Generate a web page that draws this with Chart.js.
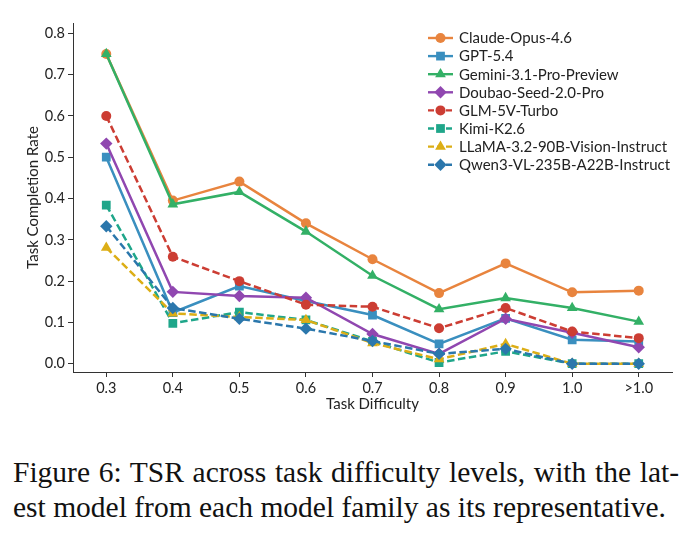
<!DOCTYPE html>
<html>
<head>
<meta charset="utf-8">
<script src="https://cdn.jsdelivr.net/npm/chart.js@4.4.1/dist/chart.umd.min.js"></script>
<style>
  body { margin: 0; background: #fff; }
  #wrap { position: absolute; left: 0; top: 0; width: 691px; height: 420px; }
  #caption {
    position: absolute; left: 13px; top: 455px; width: 666px;
    font-family: 'Liberation Serif', Times, 'Times New Roman', serif;
    font-size: 29.5px; line-height: 35px; color: #111;
  }
  #caption .l1 { text-align: justify; text-align-last: justify; }
</style>
</head>
<body>
<div id="wrap"><canvas id="tsrChart"></canvas></div>
<div id="caption">
  <div class="l1">Figure 6: TSR across task difficulty levels, with the lat-</div>
  <div>est model from each model family as its representative.</div>
</div>
<script>
// data
const difficulty = ['0.3', '0.4', '0.5', '0.6', '0.7', '0.8', '0.9', '1.0', '>1.0'];
const yTicks = [0, 0.1, 0.2, 0.3, 0.4, 0.5, 0.6, 0.7, 0.8];

const models = ['Claude-Opus-4.6', 'GPT-5.4', 'Gemini-3.1-Pro-Preview', 'Doubao-Seed-2.0-Pro',
  'GLM-5V-Turbo', 'Kimi-K2.6', 'LLaMA-3.2-90B-Vision-Instruct', 'Qwen3-VL-235B-A22B-Instruct'];

const claude = [0.750, 0.395, 0.441, 0.340, 0.253, 0.171, 0.243, 0.173, 0.177];
const gpt    = [0.500, 0.124, 0.188, 0.152, 0.118, 0.048, 0.110, 0.058, 0.054];
const gemini = [0.750, 0.386, 0.416, 0.320, 0.213, 0.132, 0.159, 0.135, 0.102];
const doubao = [0.533, 0.174, 0.164, 0.160, 0.072, 0.024, 0.109, 0.075, 0.040];
const glm    = [0.600, 0.259, 0.200, 0.143, 0.138, 0.086, 0.135, 0.078, 0.062];
const kimi   = [0.384, 0.098, 0.125, 0.106, 0.054, 0.003, 0.030, 0.000, 0.000];
const llama  = [0.281, 0.122, 0.113, 0.106, 0.050, 0.011, 0.048, 0.000, 0.000];
const qwen   = [0.333, 0.135, 0.109, 0.085, 0.055, 0.024, 0.036, 0.000, 0.000];

const seriesValues = [claude, gpt, gemini, doubao, glm, kimi, llama, qwen];
const colors = ['#e8843e', '#3a8fbf', '#33b066', '#9047b0', '#cc3d33', '#1fa68a', '#dcae16', '#2b77ac'];
const markers = ['circle', 'rect', 'triangle', 'rectRot', 'circle', 'rect', 'triangle', 'rectRot'];
const dashed = [false, false, false, false, true, true, true, true];

const markerRadius = { circle: 5, rect: 6.2, triangle: 6.2, rectRot: 6.2 };
const dashPattern = [7.5, 3.5];

// draw one marker by hand (used for the legend)
function drawMarker(ctx, style, x, y, r, color) {
  ctx.save();
  ctx.fillStyle = color;
  ctx.beginPath();
  if (style === 'circle') {
    ctx.arc(x, y, r, 0, Math.PI * 2);
  } else if (style === 'rect') {
    const s = r * Math.SQRT1_2;
    ctx.rect(x - s, y - s, 2 * s, 2 * s);
  } else if (style === 'triangle') {
    for (let k = 0; k < 3; k++) {
      const a = k * 2 * Math.PI / 3;
      const px = x + Math.sin(a) * r, py = y - Math.cos(a) * r;
      if (k === 0) ctx.moveTo(px, py); else ctx.lineTo(px, py);
    }
    ctx.closePath();
  } else {
    ctx.moveTo(x, y - r); ctx.lineTo(x + r, y); ctx.lineTo(x, y + r); ctx.lineTo(x - r, y);
    ctx.closePath();
  }
  ctx.fill();
  ctx.restore();
}

// legend inside the plot, top right, like matplotlib
const insideLegend = {
  id: 'insideLegend',
  afterDatasetsDraw(chart) {
    const ctx = chart.ctx;
    const area = chart.chartArea;
    const x0 = area.right - 244;
    const y0 = area.top + 15;
    const rowH = 18.1;
    chart.data.datasets.forEach((ds, i) => {
      const y = y0 + i * rowH;
      ctx.save();
      ctx.strokeStyle = ds.borderColor;
      ctx.lineWidth = 2.4;
      if (dashed[i]) ctx.setLineDash([6, 3]);
      ctx.beginPath();
      ctx.moveTo(x0, y);
      ctx.lineTo(x0 + 25, y);
      ctx.stroke();
      ctx.restore();
      drawMarker(ctx, markers[i], x0 + 12.5, y, markerRadius[markers[i]], ds.borderColor);
      ctx.save();
      ctx.fillStyle = '#222';
      ctx.font = '15px Lato';
      ctx.textBaseline = 'middle';
      ctx.fillText(ds.label, x0 + 31, y + 0.5);
      ctx.restore();
    });
  }
};

const datasets = models.map((name, i) => ({
  label: name,
  data: seriesValues[i],
  borderColor: colors[i],
  backgroundColor: colors[i],
  borderWidth: 2.5,
  borderDash: dashed[i] ? dashPattern : [],
  pointStyle: markers[i],
  pointRadius: markerRadius[markers[i]],
  pointBorderWidth: 0,
  pointBackgroundColor: colors[i],
  pointHoverRadius: markerRadius[markers[i]],
  tension: 0,
  fill: false,
  order: models.length - i
}));

const tickFont = { family: 'Lato', size: 14.5 };
const titleFont = { family: 'Lato', size: 15 };

const ctx = document.getElementById('tsrChart').getContext('2d');
const chart = new Chart(ctx, {
  type: 'line',
  data: { labels: difficulty, datasets: datasets },
  options: {
    responsive: true,
    maintainAspectRatio: false,
    animation: false,
    layout: { padding: { left: 0, right: 19, top: 23, bottom: 0 } },
    plugins: {
      legend: { display: false },
      tooltip: { enabled: false }
    },
    scales: {
      x: {
        type: 'category',
        offset: true,
        grid: { display: true, drawOnChartArea: false, drawTicks: true, tickLength: 5, color: '#333' },
        border: { display: true, color: '#333', width: 1 },
        ticks: { color: '#222', font: tickFont, padding: 3, maxRotation: 0, autoSkip: false },
        title: { display: true, text: 'Task Difficulty', color: '#222', font: titleFont, padding: { top: 0, bottom: 7 } },
        afterFit(scale) { scale.height = 48; }
      },
      y: {
        min: -0.02,
        max: 0.825,
        afterBuildTicks(scale) { scale.ticks = yTicks.map(v => ({ value: v })); },
        grid: { display: true, drawOnChartArea: false, drawTicks: true, tickLength: 5, color: '#333' },
        border: { display: true, color: '#333', width: 1 },
        ticks: { color: '#222', font: tickFont, padding: 3, callback: v => Number(v).toFixed(1) },
        title: { display: true, text: 'Task Completion Rate', color: '#222', font: titleFont, padding: { top: 24, bottom: 0 } },
        afterFit(scale) { scale.width = 73; }
      }
    }
  },
  plugins: [insideLegend]
});
</script>
</body>
</html>
